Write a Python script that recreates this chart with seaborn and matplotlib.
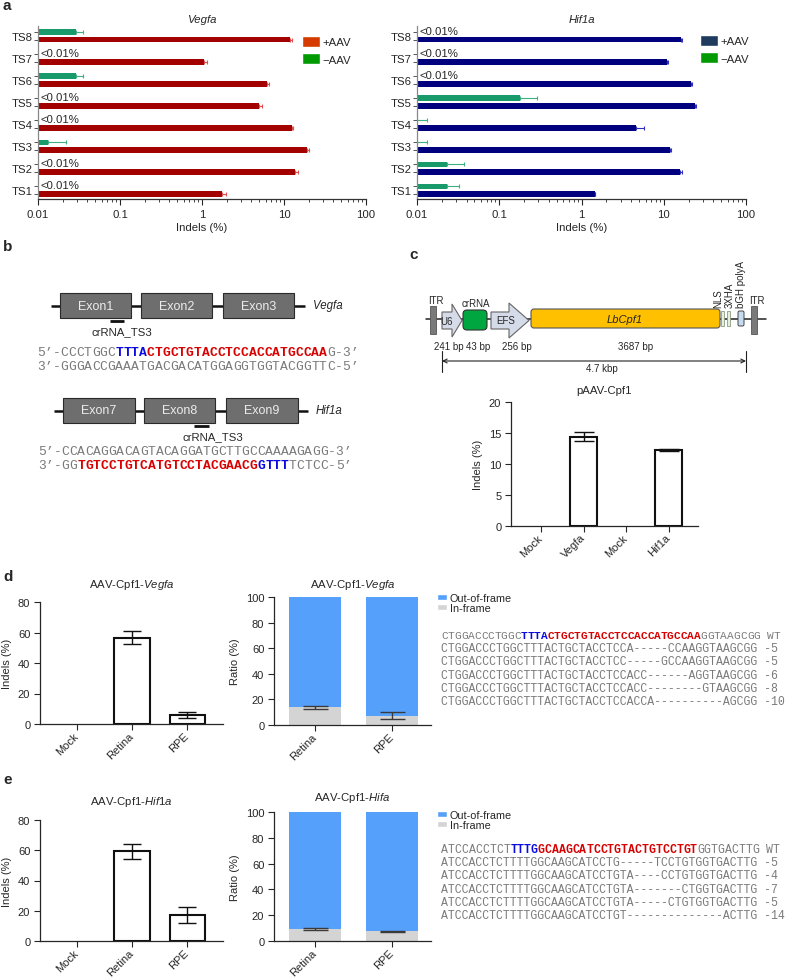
import numpy as np
import pandas as pd
import matplotlib
matplotlib.use("Agg")
import matplotlib.pyplot as plt
import seaborn as sns
from matplotlib.patches import Rectangle, FancyBboxPatch, Polygon, Patch
from matplotlib.ticker import FixedLocator, LogLocator, NullFormatter

sns.set_style("ticks")
plt.rcParams["font.family"] = ["Liberation Sans", "DejaVu Sans"]
plt.rcParams["mathtext.fontset"] = "custom"
plt.rcParams["mathtext.rm"] = "Liberation Sans"
plt.rcParams["mathtext.it"] = "Liberation Sans:italic"
plt.rcParams["font.size"] = 8
plt.rcParams["axes.linewidth"] = 0.9
plt.rcParams["xtick.major.width"] = 0.9
plt.rcParams["ytick.major.width"] = 0.9
plt.rcParams["xtick.labelsize"] = 8
plt.rcParams["ytick.labelsize"] = 8

W, H = 788, 978
nan = np.nan
MONO = ["Liberation Mono", "DejaVu Sans Mono"]

# ============================
# DATA
# ============================
# panel a: off-target sites, indels (%)
sites = ["TS8", "TS7", "TS6", "TS5", "TS4", "TS3", "TS2", "TS1"]
vegfa_plus = [12.0, 1.05, 6.24, 5.0, 12.6, 18.9, 13.5, 1.73]
vegfa_plus_err = [0.6, 0.1, 0.3, 0.35, 0.2, 1.1, 1.3, 0.22]
vegfa_minus = [0.0294, nan, 0.0294, nan, nan, 0.0132, nan, nan]
vegfa_minus_err = [0.006, 0, 0.006, 0, 0, 0.009, 0, 0]
hif1a_plus = [16.4, 10.9, 21.4, 24.1, 4.66, 12.0, 15.9, 1.46]
hif1a_plus_err = [0.5, 0.4, 0.5, 0.5, 1.15, 0.3, 1.0, 0.0]
hif1a_minus = [nan, nan, nan, 0.18, 0.01, 0.01, 0.0232, 0.0232]
hif1a_minus_err = [0, 0, 0, 0.11, 0.0032, 0.0032, 0.0146, 0.009]

# panel c: pAAV-Cpf1 in cells
c_groups = ["Mock_v", "Vegfa", "Mock_h", "Hif1a"]
c_labels = ["Mock", "Vegfa", "Mock", "Hif1a"]
c_vals = [0.0, 14.4, 0.0, 12.3]
c_err = [0.0, 0.7, 0.0, 0.2]

# panels d / e: in vivo
tissues3 = ["Mock", "Retina", "RPE"]
d_indel = [0.0, 56.6, 6.0]
d_indel_err = [0.0, 4.2, 2.1]
e_indel = [0.0, 59.2, 17.2]
e_indel_err = [0.0, 5.0, 5.4]

tissues2 = ["Retina", "RPE"]
d_inframe = [13.8, 7.3]
d_inframe_err = [1.1, 2.9]
d_outframe = [86.2, 92.7]
e_inframe = [9.3, 7.5]
e_inframe_err = [0.4, 0.5]
e_outframe = [91.2, 92.3]

# sequences
vegfa_top = [("5’-CCCTGGC", "g"), ("TTTA", "b"), ("CTGCTGTACCTCCACCATGCCAA", "r"), ("G-3’", "g")]
vegfa_bot = [("3’-GGGACCGAAATGACGACATGGAGGTGGTACGGTTC-5’", "g")]
hif1a_top = [("5’-CCACAGGACAGTACAGGATGCTTGCCAAAAGAGG-3’", "g")]
hif1a_bot = [("3’-GG", "g"), ("TGTCCTGTCATGTCCTACGAACG", "r"), ("GTTT", "b"), ("TCTCC-5’", "g")]

d_wt = [("CTGGACCCTGGC", "g"), ("TTTA", "b"), ("CTGCTGTACCTCCACCATGCCAA", "r"), ("GGTAAGCGG WT", "g")]
d_alleles = ["CTGGACCCTGGCTTTACTGCTACCTCCA-----CCAAGGTAAGCGG",
             "CTGGACCCTGGCTTTACTGCTACCTCC-----GCCAAGGTAAGCGG",
             "CTGGACCCTGGCTTTACTGCTACCTCCACC------AGGTAAGCGG",
             "CTGGACCCTGGCTTTACTGCTACCTCCACC--------GTAAGCGG",
             "CTGGACCCTGGCTTTACTGCTACCTCCACCA----------AGCGG"]
d_allele_labels = ["-5", "-5", "-6", "-8", "-10"]
e_wt = [("ATCCACCTCT", "g"), ("TTTG", "b"), ("GCAAGCATCCTGTACTGTCCTGT", "r"), ("GGTGACTTG WT", "g")]
e_alleles = ["ATCCACCTCTTTTGGCAAGCATCCTG-----TCCTGTGGTGACTTG",
             "ATCCACCTCTTTTGGCAAGCATCCTGTA----CCTGTGGTGACTTG",
             "ATCCACCTCTTTTGGCAAGCATCCTGTA-------CTGGTGACTTG",
             "ATCCACCTCTTTTGGCAAGCATCCTGTA-----CTGTGGTGACTTG",
             "ATCCACCTCTTTTGGCAAGCATCCTGT--------------ACTTG"]
e_allele_labels = ["-5", "-4", "-7", "-5", "-14"]

SEQ_COL = {"g": "#7a7a7a", "b": "#0a0ae0", "r": "#d80000"}
BLUE = "#55a0fa"
GREY = "#d4d4d4"

# ============================
# FIGURE
# ============================
fig = plt.figure(figsize=(W / 100, H / 100), dpi=100)
ov = fig.add_axes([0, 0, 1, 1])
ov.set_xlim(0, W)
ov.set_ylim(H, 0)
ov.axis("off")


def px_axes(x0, y0, x1, y1):
    ax = fig.add_axes([x0 / W, 1 - y1 / H, (x1 - x0) / W, (y1 - y0) / H])
    ax.set_facecolor("none")
    return ax


def seq_line(x0, y, parts, size):
    # one character per monospace cell so coloured runs stay on the grid
    cw = size / 72 * 100 * 0.6
    i = 0
    for txt, c in parts:
        for ch in txt:
            if ch != " ":
                ov.text(x0 + (i + 0.5) * cw, y, ch, color=SEQ_COL[c], fontsize=size, family=MONO,
                        fontweight="normal" if c == "g" else "bold", ha="center", va="center")
            i += 1


# panel letters
for letter, (x, y) in {"a": (3, 6), "b": (3, 247), "c": (409, 255), "d": (3, 577), "e": (3, 780)}.items():
    ov.text(x, y, letter, fontsize=11, fontweight="bold", ha="left", va="center")


# ---------- panel a ----------
def offtarget(box, plus, plus_err, minus, minus_err, c_plus, c_minus, c_eplus, c_eminus,
              title, leg_cols, leg_xy):
    ax = px_axes(*box)
    df = pd.DataFrame({"site": sites * 2,
                       "indel": list(minus) + list(plus),
                       "cond": ["−AAV"] * 8 + ["+AAV"] * 8})
    sns.barplot(data=df, x="indel", y="site", hue="cond", order=sites,
                hue_order=["−AAV", "+AAV"], palette={"−AAV": c_minus, "+AAV": c_plus},
                orient="h", width=0.7, gap=0.3, errorbar=None, legend=False,
                saturation=1, linewidth=0, ax=ax)
    ax.set_xscale("log")
    ax.set_xlim(0.01, 100)
    ax.set_ylim(7.4, -0.45)
    idx = np.arange(len(sites))
    ax.errorbar(plus, idx + 0.175, xerr=[np.zeros(len(plus)), plus_err], fmt="none",
                ecolor=c_eplus, elinewidth=0.8, capsize=1.5, capthick=0.8)
    mn = np.array(minus)
    ok = ~np.isnan(mn)
    ax.errorbar(mn[ok], (idx - 0.175)[ok], xerr=[np.zeros(ok.sum()), np.array(minus_err)[ok]],
                fmt="none", ecolor=c_eminus, elinewidth=0.8, capsize=1.5, capthick=0.8)
    for i in idx[~ok]:
        ax.text(0.0108, i - 0.22, "<0.01%", ha="left", va="center", fontsize=8.2)
    ax.xaxis.set_major_locator(FixedLocator([0.01, 0.1, 1, 10, 100]))
    ax.set_xticklabels(["0.01", "0.1", "1", "10", "100"])
    ax.xaxis.set_minor_locator(LogLocator(base=10, subs=np.arange(2, 10)))
    ax.xaxis.set_minor_formatter(NullFormatter())
    ax.set_yticks(idx, sites)
    ax.set_yticks(np.concatenate([idx - 0.175, idx + 0.175]), minor=True)
    ax.tick_params(axis="y", which="major", length=0, pad=4, labelsize=8.2)
    ax.tick_params(axis="y", which="minor", length=3, width=0.7, color="#555")
    ax.tick_params(axis="x", which="major", length=4, width=0.8, labelsize=8.2)
    ax.tick_params(axis="x", which="minor", length=2, width=0.6)
    ax.set_xlabel("Indels (%)", fontsize=8.2, labelpad=2)
    ax.set_ylabel("")
    ax.spines["left"].set_color("#888")
    ax.spines["bottom"].set_color("#333")
    sns.despine(ax=ax)
    ov.text((box[0] + box[2]) / 2, 20, title, fontsize=8.2, style="italic", ha="center", va="center")
    handles = [Patch(facecolor=leg_cols[0]), Patch(facecolor=leg_cols[1])]
    ax.legend(handles, ["+AAV", "−AAV"], loc="upper left", frameon=False,
              bbox_to_anchor=(leg_xy[0] / W, 1 - leg_xy[1] / H), bbox_transform=fig.transFigure,
              handlelength=1.62, handleheight=1.12, handletextpad=0.2, labelspacing=0.5,
              borderpad=0, borderaxespad=0, fontsize=8.2)
    return ax


offtarget((38, 27, 366, 200), vegfa_plus, vegfa_plus_err, vegfa_minus, vegfa_minus_err,
          "#a30000", "#189a6a", "#e05050", "#40b080", "Vegfa", ("#d53a00", "#029a02"), (302, 37))
offtarget((417, 27, 746, 200), hif1a_plus, hif1a_plus_err, hif1a_minus, hif1a_minus_err,
          "#00007f", "#189a6a", "#3030c0", "#40b080", "Hif1a", ("#1e3b5e", "#029a02"), (700, 36))


# ---------- panel b ----------
def gene(y, x0, x1, exons, names, label, cr, cr_label):
    ov.plot([x0, x1], [y, y], color="#111", lw=1.8, solid_capstyle="butt", zorder=1)
    for (e0, e1), nm in zip(exons, names):
        ov.add_patch(Rectangle((e0, y - 12.5), e1 - e0, 25, facecolor="#6e6e6e",
                               edgecolor="#2a2a2a", lw=0.8, zorder=2))
        ov.text((e0 + e1) / 2, y, nm, color="#ececec", fontsize=9, ha="center", va="center", zorder=3)
    ov.text(x1 + 8, y, label, fontsize=8.3, style="italic", ha="left", va="center")
    ov.plot(cr, [y + 15, y + 15], color="#111", lw=2, solid_capstyle="butt")
    ov.text(cr_label, y + 25.5, "crRNA_TS3", fontsize=8.2, ha="center", va="center")


gene(306.5, 51, 305, [(60, 131), (141, 212), (223, 294)], ["Exon1", "Exon2", "Exon3"],
     "Vegfa", [110, 124], 122)
seq_line(37, 353, vegfa_top, 9.4)
seq_line(37, 367, vegfa_bot, 9.4)
gene(411.5, 54, 308, [(63, 135), (144, 215), (226, 298)], ["Exon7", "Exon8", "Exon9"],
     "Hif1a", [194, 209], 213)
seq_line(38, 452, hif1a_top, 9.4)
seq_line(38, 466, hif1a_bot, 9.4)

# ---------- panel c: vector map ----------
ov.plot([426, 766], [320, 320], color="#222", lw=1.1, zorder=1)
for x in (430, 751):
    ov.add_patch(Rectangle((x, 307), 6.5, 28, facecolor="#7a7a7a", edgecolor="#555", lw=0.6, zorder=2))
ov.add_patch(Polygon([(442, 313), (452, 313), (452, 305), (462, 321.5), (452, 338), (452, 330), (442, 330)],
                     closed=True, facecolor="#d5dbe8", edgecolor="#666", lw=0.8, zorder=2))
ov.add_patch(FancyBboxPatch((463, 311), 24, 20, boxstyle="round,pad=0,rounding_size=4",
                            facecolor="#00a640", edgecolor="#333", lw=0.8, zorder=2))
ov.add_patch(Polygon([(491, 313), (509, 313), (509, 304), (529, 321.5), (509, 339), (509, 330), (491, 330)],
                     closed=True, facecolor="#d5dbe8", edgecolor="#666", lw=0.8, zorder=2))
ov.add_patch(FancyBboxPatch((531, 310), 189, 19, boxstyle="round,pad=0,rounding_size=3",
                            facecolor="#ffc000", edgecolor="#555", lw=0.8, zorder=2))
ov.add_patch(Rectangle((721, 312), 3, 15, facecolor="#e4f0dc", edgecolor="#8a9a80", lw=0.6, zorder=2))
ov.add_patch(Rectangle((727, 312), 3, 15, facecolor="#e4f0dc", edgecolor="#8a9a80", lw=0.6, zorder=2))
ov.add_patch(FancyBboxPatch((738, 312), 6, 15, boxstyle="round,pad=0,rounding_size=1.5",
                            facecolor="#c5dcf0", edgecolor="#444", lw=0.7, zorder=2))
ov.text(436, 301, "ITR", ha="center", va="center", fontsize=7)
ov.text(757, 301, "ITR", ha="center", va="center", fontsize=7)
ov.text(476, 304, "crRNA", ha="center", va="center", fontsize=7)
ov.text(447, 322, "U6", ha="center", va="center", fontsize=7, zorder=3)
ov.text(496, 321.5, "EFS", ha="left", va="center", fontsize=7, zorder=3)
ov.text(625, 320, "LbCpf1", ha="center", va="center", style="italic", fontsize=8, zorder=3)
for x, t in [(718, "NLS"), (730, "3XHA"), (741, "bGH polyA")]:
    ov.text(x, 308, t, rotation=90, ha="center", va="bottom", fontsize=7)
for x, t in [(449, "241 bp"), (478, "43 bp"), (517, "256 bp"), (636, "3687 bp")]:
    ov.text(x, 347, t, ha="center", va="center", fontsize=7)
for x in (442, 746):
    ov.plot([x, x], [352, 373], color="#222", lw=0.8)
ov.annotate("", xy=(442, 362), xytext=(746, 362),
            arrowprops=dict(arrowstyle="<->", lw=0.8, color="#222", mutation_scale=7,
                            shrinkA=0, shrinkB=0))
ov.text(602, 369.5, "4.7 kbp", ha="center", va="center", fontsize=7)


# ---------- simple indel bar charts ----------
def indel_bars(box, groups, labels, vals, errs, ylim, yticks, ylabel, cap, title, title_y, lim):
    ax = px_axes(*box)
    sns.barplot(x=groups, y=vals, color="white", edgecolor="#111", linewidth=1.5,
                width=0.64, errorbar=None, saturation=1, ax=ax)
    for p in ax.patches:
        if p.get_height() == 0:
            p.set_visible(False)
    e = np.array(errs) > 0
    ax.errorbar(np.arange(len(groups))[e], np.array(vals)[e], yerr=np.array(errs)[e],
                fmt="none", ecolor="#111", elinewidth=1, capsize=cap, capthick=1)
    ax.set_xticks(range(len(groups)), labels, rotation=45, ha="right", va="center",
                  rotation_mode="anchor")
    ax.set_ylim(*ylim)
    ax.set_yticks(yticks)
    ax.set_xlim(*lim)
    ax.set_ylabel(ylabel, fontsize=8)
    ax.tick_params(length=4, width=0.8, pad=3)
    sns.despine(ax=ax)
    ov.text((box[0] + box[2]) / 2, title_y, title, ha="center", va="center", fontsize=8.2)
    return ax


indel_bars((511, 403, 698, 527), c_groups, c_labels, c_vals, c_err, (0, 20), [0, 5, 10, 15, 20],
           "Indels (%)", 7.2, "pAAV-Cpf1", 391, (-0.71, 3.69))
indel_bars((40, 603, 223, 725), tissues3, tissues3, d_indel, d_indel_err, (0, 80),
           [0, 20, 40, 60, 80], "Indels (%)", 6.6, "AAV-Cpf1-$\\mathit{Vegfa}$", 585, (-0.67, 2.65))
indel_bars((40, 821, 223, 942), tissues3, tissues3, e_indel, e_indel_err, (0, 80),
           [0, 20, 40, 60, 80], "Indels (%)", 6.6, "AAV-Cpf1-$\\mathit{Hif1a}$", 802, (-0.67, 2.65))


# ---------- frame ratio stacked bars ----------
def ratio_bars(box, inframe, inframe_err, outframe, title, title_y, leg_y, seq_y, wt, alleles,
               allele_labels, wt_size):
    ax = px_axes(*box)
    total = np.array(inframe) + np.array(outframe)
    sns.barplot(x=tissues2, y=total, color=BLUE, width=0.67, errorbar=None, saturation=1,
                linewidth=0, ax=ax)
    sns.barplot(x=tissues2, y=inframe, color=GREY, width=0.67, errorbar=None, saturation=1,
                linewidth=0, ax=ax)
    ax.errorbar(range(len(tissues2)), inframe, yerr=inframe_err, fmt="none", ecolor="#3a3a3a",
                elinewidth=1, capsize=9, capthick=1)
    ax.set_xticks(range(len(tissues2)), tissues2, rotation=45, ha="right", va="center",
                  rotation_mode="anchor")
    ax.set_ylim(0, 100)
    ax.set_yticks([0, 20, 40, 60, 80, 100])
    ax.set_xlim(-0.53, 1.5)
    ax.set_ylabel("Ratio (%)", fontsize=8)
    ax.tick_params(length=4, width=0.8, pad=3)
    sns.despine(ax=ax)
    ov.text((box[0] + box[2]) / 2, title_y, title, ha="center", va="center", fontsize=8.2)
    ax.legend([Patch(facecolor=BLUE), Patch(facecolor=GREY)], ["Out-of-frame", "In-frame"],
              loc="upper left", frameon=False, bbox_to_anchor=(437 / W, 1 - leg_y / H),
              bbox_transform=fig.transFigure, handlelength=0.9, handleheight=0.55,
              handletextpad=0.3, labelspacing=0.0, borderpad=0, borderaxespad=0, fontsize=7.8)
    seq_line(441, seq_y, wt, wt_size)
    for k, (a, lab) in enumerate(zip(alleles, allele_labels)):
        ov.text(441, seq_y + 13.2 * (k + 1), a + " " + lab, color=SEQ_COL["g"], fontsize=8.3,
                family=MONO, ha="left", va="center")


ratio_bars((274, 598, 431, 726), d_inframe, d_inframe_err, d_outframe,
           "AAV-Cpf1-$\\mathit{Vegfa}$", 585, 594, 636, d_wt, d_alleles, d_allele_labels, 7.98)
ratio_bars((274, 813, 431, 942), e_inframe, e_inframe_err, e_outframe,
           "AAV-Cpf1-$\\mathit{Hifa}$", 798, 811, 850, e_wt, e_alleles, e_allele_labels, 8.3)

fig.savefig("out.png", dpi=100)
